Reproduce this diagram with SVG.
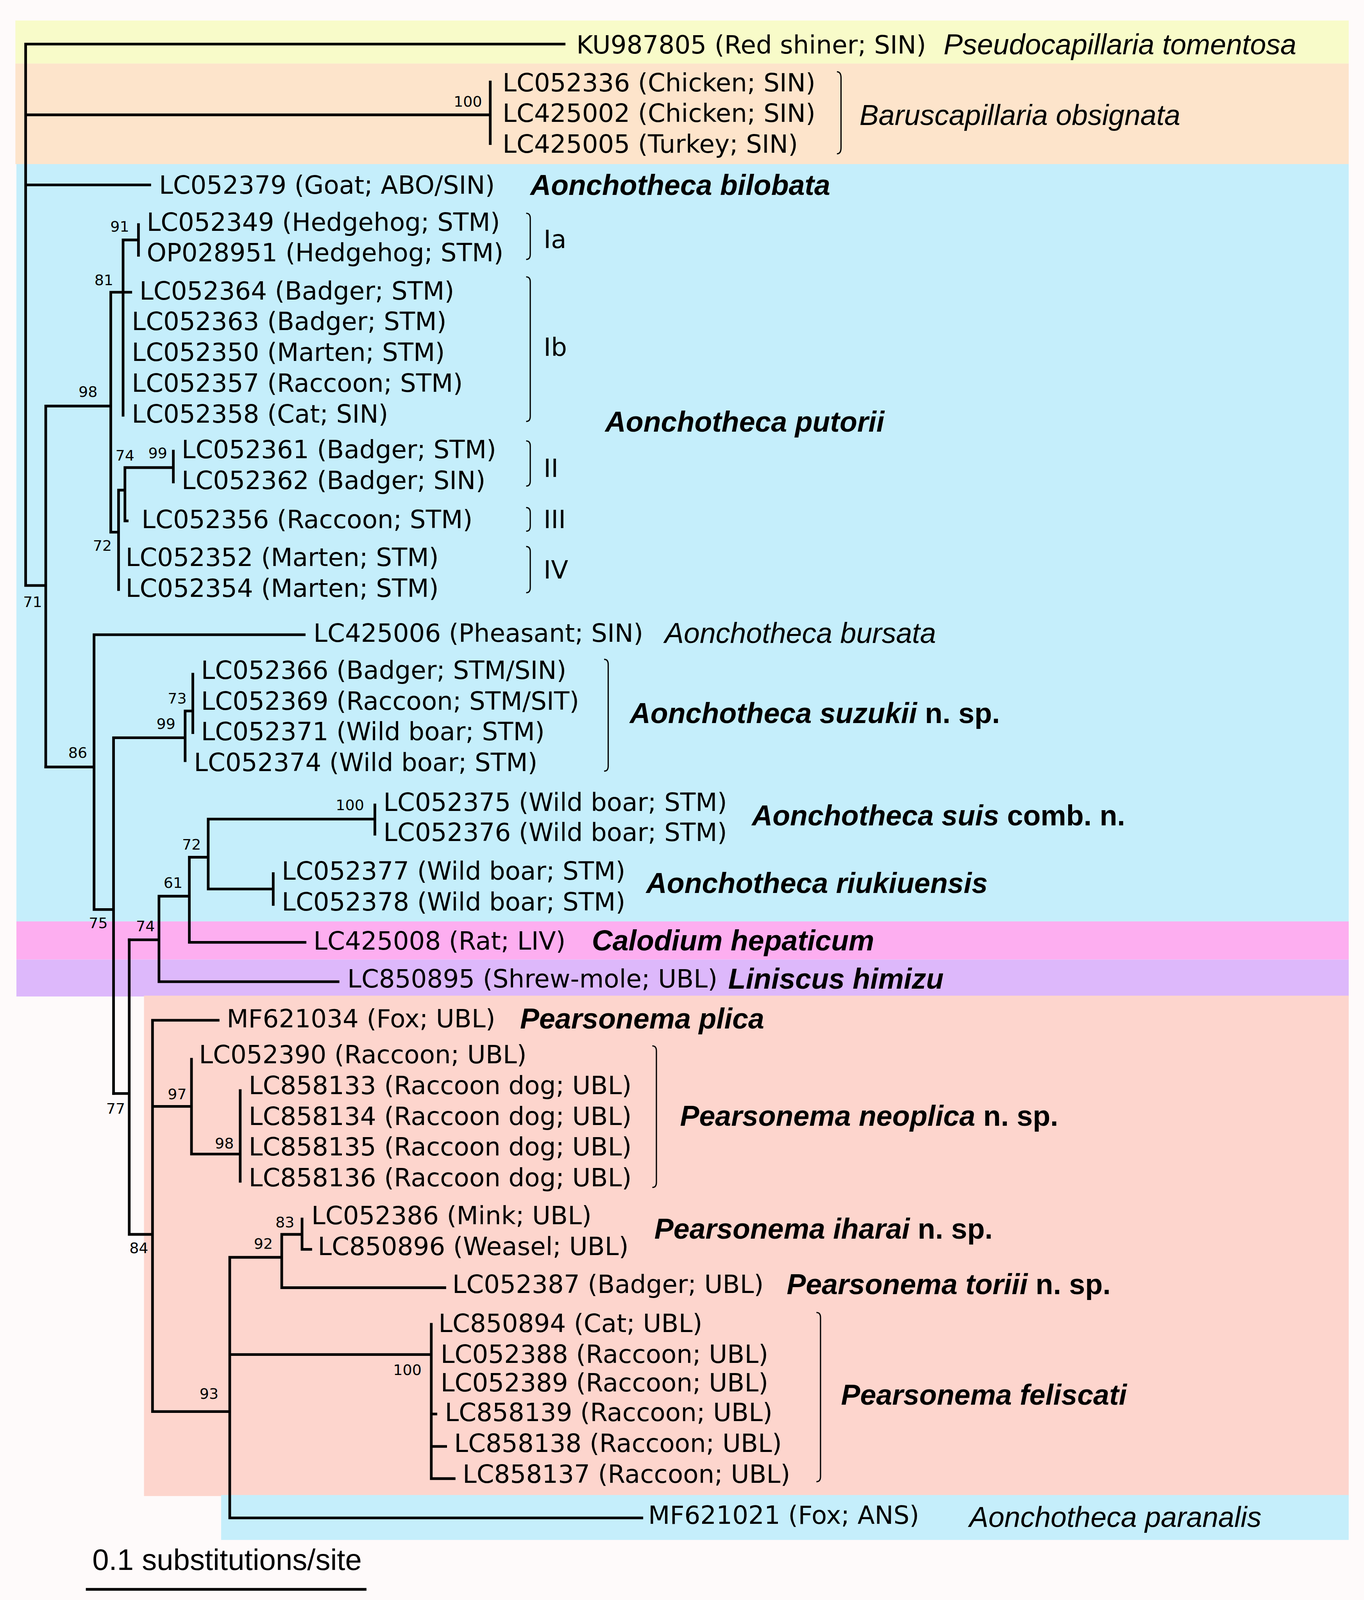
<svg xmlns="http://www.w3.org/2000/svg" width="3491" height="4122" viewBox="0 0 3491 4122">
<style>
.t{font-family:"DejaVu Sans",sans-serif;font-size:24.5px;fill:#000}
.b{font-family:"DejaVu Sans",sans-serif;font-size:14.5px;fill:#000}
.sp{font-family:"Liberation Sans",Arial,sans-serif;font-size:28px;fill:#000}
.i{font-style:italic}
.bi{font-style:italic;font-weight:bold}
.bo{font-weight:bold}
.e{fill:none;stroke:#000;stroke-width:2.6;stroke-linecap:square}
.k{fill:none;stroke:#000;stroke-width:1.2}
</style>
<rect width="3491" height="4122" fill="#fefafa"/>
<g transform="scale(2.625)">
<g id="bands">
<rect x="15" y="20" width="1300" height="42" fill="#f8fbc9"/>
<rect x="15" y="62" width="1300" height="98" fill="#fde4cb"/>
<rect x="16" y="160" width="1299" height="739" fill="#c5eefb"/>
<rect x="16" y="898.6" width="1299" height="37.2" fill="#fdaef0"/>
<rect x="16" y="935.8" width="1299" height="36" fill="#ddb8fb"/>
<rect x="140.4" y="971" width="1174.6" height="488" fill="#fdd5cd"/>
<rect x="215.6" y="1458" width="1099.4" height="43.8" fill="#c5eefb"/>
</g>
<g id="connectors">
<path class="e" d="M25 43H550M25 43V571M25 112H478M478 80V140M25 180.3H146M25 571H44.6M44.6 396V748M44.6 396H108M108 285V519M108 285H120M120 234V405M120 285H127.5M120 234H135M135 219V249M108 519H115.6M115.6 478V575M115.6 478H121.8M121.8 456V508M121.8 508H124M121.8 456H169M169 440V470"/>
<path class="e" d="M44.6 748H91.7M91.7 619V887M91.7 619H296.6M91.7 887H110.7M110.7 719.5V1066.4M110.7 719.5H180.5M180.5 693.4V741.8M180.5 693.4H188M188 657.5V714.5M126 916.5H155M155 874V957.4M155 957.4H329.6M155 874H184.6M184.6 836V919M184.6 919H297.4M184.6 836H203M203 798.8V867M203 798.8H365.5M365.5 785V813.6M203 867H266.4M266.4 852V882"/>
<path class="e" d="M110.7 1066.4H126M126 916.5V1203.8M126 1203.8H148.7M148.7 995V1376.6M148.7 995H212.7M148.7 1079H186.7M186.7 1033V1125.5M186.7 1125.5H234.2M234.2 1063.6V1152M148.7 1376.6H224M224 1226.2V1480.3M224 1226.2H274.7M274.7 1203.8V1255.8M274.7 1203.8H294.5M294.5 1188.8V1218.4M294.5 1218.4H303M274.7 1255.8H433.7M224 1321H420.5M420.5 1291.5V1442M420.5 1379H425M420.5 1410.6H434.5M420.5 1442H442.8M224 1480.3H625.8M85 1550H356"/>
<path class="k" d="M816 70Q820 70 820 76V144Q820 150 816 150M513 208Q517 208 517 213V248Q517 253 513 253M513 270Q517 270 517 275V406Q517 411 513 411M513 430Q517 430 517 435V469Q517 474 513 474M513 495Q517 495 517 500V513Q517 518 513 518M513 533Q517 533 517 538V573Q517 578 513 578M589 643Q593 643 593 648V747Q593 752 589 752M636 1020Q640 1020 640 1025V1153Q640 1158 636 1158M796 1280Q800 1280 800 1285V1440Q800 1445 796 1445"/>
</g>
<g id="leaves" class="t">
<text x="562" y="52">KU987805 (Red shiner; SIN)</text>
<text x="490" y="89">LC052336 (Chicken; SIN)</text>
<text x="490" y="119">LC425002 (Chicken; SIN)</text>
<text x="490" y="149">LC425005 (Turkey; SIN)</text>
<text x="155" y="189">LC052379 (Goat; ABO/SIN)</text>
<text x="143" y="225">LC052349 (Hedgehog; STM)</text>
<text x="143" y="255">OP028951 (Hedgehog; STM)</text>
<text x="136" y="292">LC052364 (Badger; STM)</text>
<text x="128.5" y="322">LC052363 (Badger; STM)</text>
<text x="128.5" y="352">LC052350 (Marten; STM)</text>
<text x="128.5" y="382">LC052357 (Raccoon; STM)</text>
<text x="128.5" y="412">LC052358 (Cat; SIN)</text>
<text x="177" y="447">LC052361 (Badger; STM)</text>
<text x="177" y="477">LC052362 (Badger; SIN)</text>
<text x="138" y="515">LC052356 (Raccoon; STM)</text>
<text x="122.5" y="552">LC052352 (Marten; STM)</text>
<text x="122.5" y="582">LC052354 (Marten; STM)</text>
<text x="305.6" y="626">LC425006 (Pheasant; SIN)</text>
<text x="196" y="662">LC052366 (Badger; STM/SIN)</text>
<text x="196" y="692">LC052369 (Raccoon; STM/SIT)</text>
<text x="196" y="722">LC052371 (Wild boar; STM)</text>
<text x="189" y="752">LC052374 (Wild boar; STM)</text>
<text x="373.8" y="791">LC052375 (Wild boar; STM)</text>
<text x="373.8" y="820">LC052376 (Wild boar; STM)</text>
<text x="274.7" y="858">LC052377 (Wild boar; STM)</text>
<text x="274.7" y="888">LC052378 (Wild boar; STM)</text>
<text x="305.6" y="926">LC425008 (Rat; LIV)</text>
<text x="338.7" y="963">LC850895 (Shrew-mole; UBL)</text>
<text x="221" y="1002">MF621034 (Fox; UBL)</text>
<text x="194" y="1037">LC052390 (Raccoon; UBL)</text>
<text x="242.5" y="1067">LC858133 (Raccoon dog; UBL)</text>
<text x="242.5" y="1097">LC858134 (Raccoon dog; UBL)</text>
<text x="242.5" y="1127">LC858135 (Raccoon dog; UBL)</text>
<text x="242.5" y="1157">LC858136 (Raccoon dog; UBL)</text>
<text x="303.6" y="1194">LC052386 (Mink; UBL)</text>
<text x="309.8" y="1224">LC850896 (Weasel; UBL)</text>
<text x="441" y="1261">LC052387 (Badger; UBL)</text>
<text x="427.5" y="1299">LC850894 (Cat; UBL)</text>
<text x="429.6" y="1329">LC052388 (Raccoon; UBL)</text>
<text x="429.6" y="1357">LC052389 (Raccoon; UBL)</text>
<text x="433.7" y="1386">LC858139 (Raccoon; UBL)</text>
<text x="442.8" y="1416">LC858138 (Raccoon; UBL)</text>
<text x="451" y="1446">LC858137 (Raccoon; UBL)</text>
<text x="632" y="1486">MF621021 (Fox; ANS)</text>
<text x="530" y="242">Ia</text>
<text x="530" y="347">Ib</text>
<text x="530" y="465">II</text>
<text x="530" y="515">III</text>
<text x="530" y="564">IV</text>
</g>
<g id="support" class="b" text-anchor="end">
<text x="470" y="104">100</text>
<text x="126" y="226">91</text>
<text x="110.5" y="278">81</text>
<text x="95" y="387">98</text>
<text x="131" y="449">74</text>
<text x="163" y="447">99</text>
<text x="109" y="537">72</text>
<text x="41" y="592">71</text>
<text x="182" y="686">73</text>
<text x="171" y="711">99</text>
<text x="85" y="739">86</text>
<text x="355" y="790">100</text>
<text x="196" y="828.5">72</text>
<text x="178" y="866">61</text>
<text x="105" y="905">75</text>
<text x="151" y="908">74</text>
<text x="182" y="1072">97</text>
<text x="122" y="1086">77</text>
<text x="228" y="1120">98</text>
<text x="287" y="1197">83</text>
<text x="266" y="1218">92</text>
<text x="144.6" y="1222">84</text>
<text x="411" y="1341">100</text>
<text x="213" y="1364">93</text>
</g>
<g id="species" class="sp">
<text x="920" y="53" class="i">Pseudocapillaria tomentosa</text>
<text x="838" y="122" class="i">Baruscapillaria obsignata</text>
<text x="517" y="190" class="bi">Aonchotheca bilobata</text>
<text x="590" y="421" class="bi">Aonchotheca putorii</text>
<text x="648" y="627" class="i">Aonchotheca bursata</text>
<text x="614" y="705"><tspan class="bi">Aonchotheca suzukii</tspan><tspan class="bo"> n. sp.</tspan></text>
<text x="733" y="805"><tspan class="bi">Aonchotheca suis</tspan><tspan class="bo"> comb. n.</tspan></text>
<text x="630" y="871" class="bi">Aonchotheca riukiuensis</text>
<text x="577" y="927" class="bi">Calodium hepaticum</text>
<text x="710" y="964" class="bi">Liniscus himizu</text>
<text x="507" y="1003" class="bi">Pearsonema plica</text>
<text x="663" y="1098"><tspan class="bi">Pearsonema neoplica</tspan><tspan class="bo"> n. sp.</tspan></text>
<text x="638" y="1208"><tspan class="bi">Pearsonema iharai</tspan><tspan class="bo"> n. sp.</tspan></text>
<text x="767" y="1262"><tspan class="bi">Pearsonema toriii</tspan><tspan class="bo"> n. sp.</tspan></text>
<text x="820" y="1370" class="bi">Pearsonema feliscati</text>
<text x="945" y="1489" class="i">Aonchotheca paranalis</text>
<text x="90" y="1531" style="font-size:29px">0.1 substitutions/site</text>
</g>
</g>
</svg>
